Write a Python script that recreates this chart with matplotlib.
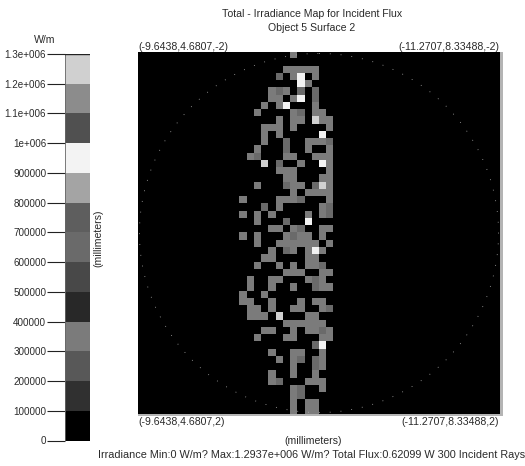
import numpy as np
import matplotlib
matplotlib.use('Agg')
import matplotlib.pyplot as plt
from matplotlib.colors import ListedColormap, BoundaryNorm
from matplotlib.patches import Circle, Rectangle

plt.rcParams['font.family'] = ['Liberation Sans', 'DejaVu Sans']

W, H = 525, 466

# rays per detector pixel, columns 12-27 of the 50x50 detector (. = none)
first_col = 12
ray_rows = [
    ".........1......",
    "................",
    "........11111...",
    ".......2.13.1...",
    "..........31....",
    "......121.2.2...",
    "......11.13.2...",
    ".....1.13...1...",
    "....1....12.11..",
    ".......1.11.411.",
    ".....111.1....1.",
    ".....1.1.....3..",
    ".....1..2..1112.",
    "....1...2..1..1.",
    "...12...11..111.",
    ".....4.2..1..31.",
    ".......111....1.",
    "........11...11.",
    "....1...211.241.",
    ".........1.1111.",
    "..1....1112...1.",
    ".....2.1.....12.",
    "..1.1.1....1.12.",
    "....1...2..3....",
    "......11.12..11.",
    "..1.1...1211.1..",
    "....1..111111.1.",
    "......1.21.131..",
    ".....11....11...",
    "....1..1.1.112..",
    "........111..11.",
    "...1..11...121..",
    "...1..1..1..211.",
    "..1..1..........",
    "..11..1...1.11..",
    "...11.1..11..12.",
    "...111.4...11...",
    "........111111..",
    ".....11..1.1121.",
    "....1...11...11.",
    "............23..",
    "......1..11..1..",
    ".......1.12.21..",
    ".........1..21..",
    "......1..1..1...",
    "......12...111..",
    ".........12..1..",
    ".........12.....",
    ".........1.11...",
    ".........1.11...",
]
flux_per_ray = 1.2937e6 / 4

levels = [0, 100000, 200000, 300000, 400000, 500000, 600000, 700000,
          800000, 900000, 1000000, 1100000, 1200000, 1300000]
band_colors = ['#000000', '#303030', '#585858', '#7b7b7b', '#282828', '#484848',
               '#6a6a6a', '#5e5e5e', '#a4a4a4', '#f3f3f3', '#505050', '#8c8c8c', '#d0d0d0']
tick_labels = ['0', '100000', '200000', '300000', '400000', '500000', '600000', '700000',
               '800000', '900000', '1e+006', '1.1e+006', '1.2e+006', '1.3e+006']

title_lines = ['Total - Irradiance Map for Incident Flux', 'Object 5 Surface 2']
stats_line = 'Irradiance Min:0 W/m? Max:1.2937e+006 W/m? Total Flux:0.62099 W 300 Incident Rays'

grid = np.zeros((50, 50))
for r, row in enumerate(ray_rows):
    for c, ch in enumerate(row):
        if ch != '.':
            grid[r, first_col + c] = int(ch) * flux_per_ray

cmap = ListedColormap(band_colors)
norm = BoundaryNorm(levels, cmap.N)


def px_axes(x0, y0, x1, y1):
    # pixel box with y measured from the top
    return fig.add_axes([x0 / W, 1 - y1 / H, (x1 - x0) / W, (y1 - y0) / H])


def label(x, y, s, ha='center', rot=0, size=7.6):
    fig.text(x / W, 1 - y / H, s, ha=ha, va='center', rotation=rot, fontsize=size, color='#2a2a2a')


fig = plt.figure(figsize=(W / 100, H / 100), dpi=100, facecolor='white')

# soft shadow around the map
fig.add_artist(Rectangle((138 / W, 1 - 416 / H), 365 / W, 364 / H, transform=fig.transFigure,
                         facecolor='#b4b4b4', edgecolor='none', zorder=-1))

ax = px_axes(138, 52, 500, 414)
im = ax.imshow(grid, cmap=cmap, norm=norm, interpolation='nearest', aspect='auto',
               extent=(0, 50, 50, 0))
ax.add_patch(Circle((25, 25), 24.8, fill=False, edgecolor='#b0b0b0', linewidth=0.6,
                    linestyle=(0, (1, 12)), zorder=3))
ax.set_xticks([])
ax.set_yticks([])
for s in ax.spines.values():
    s.set_visible(False)

cax = px_axes(65, 54, 90, 440.5)
cb = fig.colorbar(im, cax=cax, ticks=levels, spacing='proportional', drawedges=False)
cb.ax.yaxis.set_ticks_position('left')
cb.ax.set_yticklabels(tick_labels)
cb.ax.tick_params(axis='y', length=13, width=0.8, color='#222222', labelsize=7.1,
                  labelcolor='#2a2a2a', pad=0.5)
cb.outline.set_visible(False)
cb.ax.axvline(0, color='#666666', lw=1.2)
cb.ax.axhline(1300000, color='#222222', lw=1)

label(44.5, 40, 'W/m')
label(98, 238, '(millimeters)', rot=90)
label(312, 14, title_lines[0])
label(312, 28, title_lines[1])
label(138, 47, '(-9.6438,4.6807,-2)', ha='left')
label(499, 47, '(-11.2707,8.33488,-2)', ha='right')
label(138, 422, '(-9.6438,4.6807,2)', ha='left')
label(499, 422, '(-11.2707,8.33488,2)', ha='right')
label(313, 441, '(millimeters)')
label(525, 455, stats_line, ha='right', size=7.8)

fig.savefig('out.png', dpi=100)
